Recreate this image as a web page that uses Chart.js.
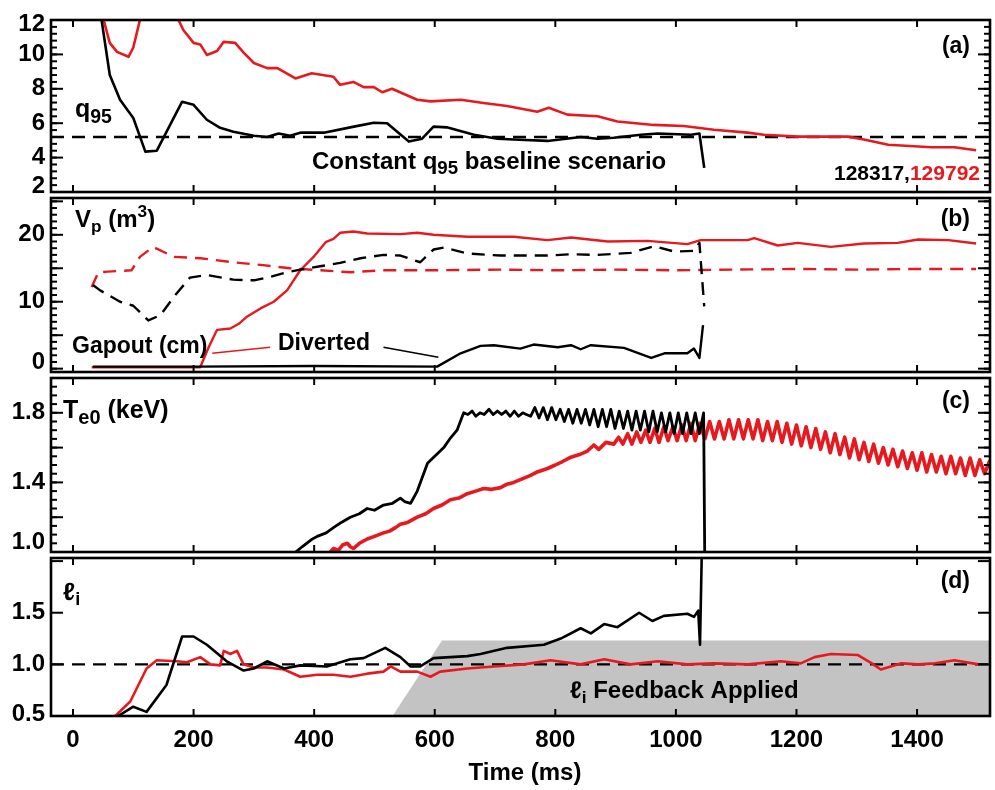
<!DOCTYPE html>
<html>
<head>
<meta charset="utf-8">
<script src="https://cdn.jsdelivr.net/npm/chart.js@4.4.1/dist/chart.umd.min.js"></script>
<style>
  html, body { margin: 0; padding: 0; background: #fff; }
  #wrap { position: relative; width: 995px; height: 790px; }
  #wrap canvas { position: absolute; left: 0; top: 0; }
</style>
</head>
<body>
<div id="wrap">
  <canvas id="panelA" width="995" height="790"></canvas>
  <canvas id="panelB" width="995" height="790"></canvas>
  <canvas id="panelC" width="995" height="790"></canvas>
  <canvas id="panelD" width="995" height="790"></canvas>
</div>
<script>
const RED = "#e6191e";
const FONT = '"Liberation Sans", Arial, Helvetica, sans-serif';

// shared time axis (ms)
const timeRange = [-36.5, 1521];
const xTicks = [0, 200, 400, 600, 800, 1000, 1200, 1400];
const xTickLabels = ["0", "200", "400", "600", "800", "1000", "1200", "1400"];

// (a) q95, shot 128317 (black) and 129792 (red)
const q95TimeBlack = [44, 61, 78, 100, 120, 139, 181, 200, 222, 244, 266, 300, 322, 341, 360, 377, 416, 466, 499, 521, 557, 579, 598, 620, 665, 704, 731, 787, 842, 870, 897, 942, 970, 1025, 1039, 1047];
const q95Black = [12.8, 8.8, 7.36, 6.3, 4.35, 4.4, 7.25, 7.07, 6.2, 5.73, 5.5, 5.27, 5.2, 5.4, 5.27, 5.45, 5.45, 5.8, 6.03, 6.0, 4.93, 5.1, 5.8, 5.76, 5.33, 5.1, 5.05, 4.97, 5.2, 5.1, 5.15, 5.33, 5.4, 5.33, 5.4, 3.4];
const q95TimeRed = [47, 61, 73, 92, 100, 111, 116, 170, 175, 183, 200, 211, 222, 239, 250, 269, 283, 300, 322, 339, 369, 396, 432, 443, 465, 482, 499, 513, 529, 571, 593, 643, 681, 720, 770, 789, 820, 870, 903, 963, 1013, 1063, 1119, 1146, 1202, 1285, 1312, 1352, 1424, 1462, 1498];
const q95Red = [12.5, 10.67, 10.15, 9.86, 10.4, 12.0, 13.0, 13.0, 12.0, 11.42, 10.67, 10.58, 9.97, 10.2, 10.73, 10.67, 10.1, 9.5, 9.2, 9.2, 8.6, 8.9, 8.7, 8.23, 8.4, 8.1, 8.1, 7.8, 8.0, 7.36, 7.27, 7.36, 7.17, 7.0, 6.67, 6.9, 6.5, 6.4, 6.1, 5.9, 5.84, 5.62, 5.45, 5.33, 5.22, 5.22, 5.05, 4.75, 4.6, 4.6, 4.43];
const q95Baseline = [5.2, 5.2];

// (b) Vp (dashed) and Gapout (solid)
const vpTimeBlack = [33, 45, 78, 100, 125, 145, 167, 194, 222, 266, 300, 322, 355, 377, 410, 443, 477, 515, 543, 576, 598, 615, 654, 709, 748, 787, 826, 870, 925, 964, 997, 1030, 1039, 1047];
const vpBlack = [12.5, 11.7, 10.0, 9.4, 7.2, 8.0, 10.7, 13.6, 14.0, 13.3, 13.2, 13.6, 14.4, 14.8, 15.3, 15.8, 16.5, 17.0, 16.9, 15.9, 17.8, 18.1, 17.2, 16.9, 16.9, 16.9, 17.1, 17.0, 17.3, 18.3, 17.5, 17.6, 18.8, 9.3];
const vpTimeRed = [31, 42, 58, 97, 111, 133, 167, 211, 266, 311, 360, 410, 460, 515, 598, 709, 800, 900, 1000, 1100, 1200, 1300, 1400, 1498];
const vpRed = [12.2, 14.4, 14.5, 14.7, 16.7, 18.2, 16.7, 16.5, 15.9, 15.5, 15.0, 14.7, 14.4, 14.7, 14.7, 14.8, 14.7, 14.8, 14.7, 14.8, 14.9, 14.8, 14.9, 14.9];
const gapTimeBlack = [33, 200, 400, 604, 643, 676, 698, 742, 764, 804, 826, 842, 859, 914, 959, 981, 1019, 1030, 1039, 1045];
const gapBlack = [0.3, 0.3, 0.4, 0.3, 2.3, 3.4, 3.5, 3.0, 3.6, 3.2, 3.5, 2.9, 3.5, 3.1, 1.6, 2.3, 2.3, 3.0, 1.6, 6.5];
const gapTimeRed = [31, 100, 211, 225, 239, 261, 275, 289, 311, 333, 355, 377, 399, 419, 432, 443, 465, 488, 543, 571, 598, 654, 709, 731, 787, 826, 887, 953, 1019, 1041, 1119, 1130, 1169, 1202, 1257, 1312, 1368, 1402, 1452, 1498];
const gapRed = [0.2, 0.2, 0.2, 3.2, 5.8, 6.0, 6.7, 7.8, 9.0, 10.0, 11.7, 14.7, 16.7, 18.9, 19.4, 20.3, 20.5, 20.2, 20.1, 20.3, 20.0, 19.7, 19.7, 19.7, 19.2, 19.6, 19.0, 19.1, 18.6, 19.2, 19.2, 19.5, 18.4, 18.8, 18.2, 18.7, 18.8, 19.3, 19.2, 18.7];
// "Diverted" pointers: [time, value] pairs
const divertRed = [[327, 3.2], [231, 2.3]];
const divertBlack = [[515, 3.2], [606, 1.7]];

// (c) Te0 (keV)
const teTimeBlack = [366, 380, 395, 405, 420, 432, 445, 460, 475, 488, 500, 515, 530, 543, 550, 560, 571, 588, 600, 615, 626, 637, 648, 655, 662, 668, 675, 682, 690, 697, 704, 711, 718, 725, 732, 739, 746, 752,
  759, 766, 773, 780, 787, 794, 801, 808, 815, 822, 829, 836, 843, 850, 857, 864, 871, 878, 885, 892, 899, 906, 913, 920, 927, 934, 941, 948, 955, 962, 969, 976, 983, 990, 997, 1004, 1011, 1018, 1025, 1032, 1039, 1046, 1048];
const teBlack = [0.99, 1.03, 1.07, 1.09, 1.11, 1.14, 1.17, 1.2, 1.22, 1.25, 1.24, 1.27, 1.28, 1.31, 1.29, 1.28, 1.35, 1.51, 1.55, 1.60, 1.655, 1.70, 1.80, 1.79, 1.81, 1.78, 1.80, 1.79, 1.82, 1.79, 1.81, 1.79, 1.81, 1.78, 1.81, 1.78, 1.80, 1.79,
  1.78, 1.83, 1.77, 1.83, 1.76, 1.83, 1.76, 1.82, 1.75, 1.82, 1.74, 1.82, 1.74, 1.82, 1.73, 1.82, 1.72, 1.82, 1.72, 1.82, 1.71, 1.81, 1.71, 1.81, 1.70, 1.81, 1.70, 1.81, 1.69, 1.81, 1.69, 1.80, 1.69, 1.80, 1.68, 1.80, 1.68, 1.80, 1.68, 1.80, 1.68, 1.80, 0.9];
const teTimeRed = [424, 432, 440, 447, 455, 460, 465, 475, 488, 500, 515, 525, 535, 543, 555, 571, 585, 598, 612, 626, 640, 654, 668, 681, 695, 709, 720, 731, 745, 759, 770, 787, 800, 812, 826, 840, 853, 864, 872, 884, 897,
  905, 912, 920, 927, 935, 942, 950, 957, 965, 972, 980, 987, 995, 1002, 1010, 1017, 1025, 1032, 1040, 1048, 1056, 1064, 1072, 1080, 1088, 1096, 1104, 1112, 1120, 1128, 1136, 1144, 1152, 1160, 1168, 1176, 1184, 1192, 1200, 1208,
  1216, 1224, 1232, 1240, 1248, 1256, 1264, 1272, 1280, 1288, 1296, 1304, 1312, 1320, 1328, 1336, 1344, 1352, 1360, 1368, 1376, 1384, 1392, 1400, 1408, 1416, 1424, 1432, 1440, 1448, 1456, 1464, 1472, 1480, 1488, 1496, 1504, 1512, 1520, 1527];
const teRed = [0.99, 1.02, 1.01, 1.04, 1.05, 1.03, 1.02, 1.05, 1.075, 1.09, 1.11, 1.12, 1.14, 1.16, 1.17, 1.20, 1.22, 1.25, 1.27, 1.30, 1.31, 1.335, 1.35, 1.365, 1.36, 1.37, 1.39, 1.40, 1.42, 1.44, 1.46, 1.48, 1.50, 1.52, 1.545, 1.56, 1.58, 1.615, 1.59, 1.63, 1.62,
  1.66, 1.62, 1.68, 1.62, 1.69, 1.63, 1.70, 1.63, 1.71, 1.63, 1.72, 1.64, 1.72, 1.64, 1.73, 1.64, 1.74, 1.64, 1.74, 1.65, 1.75, 1.65, 1.75, 1.65, 1.76, 1.65, 1.76, 1.65, 1.76, 1.65, 1.76, 1.64, 1.75, 1.64, 1.75, 1.63, 1.74, 1.62, 1.73, 1.61,
  1.72, 1.60, 1.71, 1.59, 1.69, 1.57, 1.68, 1.56, 1.66, 1.54, 1.65, 1.53, 1.63, 1.52, 1.62, 1.51, 1.60, 1.50, 1.59, 1.49, 1.58, 1.48, 1.57, 1.47, 1.57, 1.46, 1.56, 1.46, 1.55, 1.45, 1.55, 1.45, 1.54, 1.44, 1.54, 1.44, 1.53, 1.45, 1.52, 1.46];

// (d) internal inductance li
const liTimeBlack = [75, 100, 122, 155, 181, 200, 222, 255, 283, 300, 322, 350, 377, 421, 460, 482, 518, 543, 560, 576, 598, 654, 676, 720, 781, 809, 842, 859, 881, 903, 939, 961, 980, 1019, 1030, 1037, 1040, 1043];
const liBlack = [0.5, 0.59, 0.54, 0.8, 1.27, 1.27, 1.19, 1.03, 0.94, 0.96, 1.03, 0.96, 0.99, 0.98, 1.05, 1.06, 1.16, 1.07, 0.98, 0.98, 1.06, 1.08, 1.1, 1.16, 1.19, 1.25, 1.35, 1.30, 1.39, 1.36, 1.5, 1.42, 1.47, 1.49, 1.46, 1.52, 1.19, 2.1];
const liTimeRed = [70, 95, 122, 139, 172, 189, 211, 228, 244, 250, 261, 272, 283, 300, 322, 350, 377, 405, 432, 460, 488, 515, 527, 543, 571, 593, 609, 654, 698, 748, 792, 842, 881, 925, 970, 1019, 1063, 1119, 1174, 1207, 1230, 1257, 1302, 1325, 1340, 1374, 1402, 1430, 1462, 1502];
const liRed = [0.5, 0.64, 0.96, 1.04, 1.03, 1.02, 1.07, 1.0, 0.99, 1.13, 1.1, 1.13, 1.0, 0.97, 0.97, 0.95, 0.88, 0.9, 0.9, 0.88, 0.91, 0.93, 0.98, 0.93, 0.93, 0.88, 0.93, 0.96, 0.98, 1.0, 1.04, 1.0, 1.05, 1.0, 1.03, 1.0, 1.01, 1.0, 1.03, 1.01, 1.07, 1.1, 1.09, 1.01, 0.95, 1.01, 1.0, 1.01, 1.04, 1.0];
const liTarget = [1.0, 1.0];
const feedbackTime = [530, 612, 1521];
const feedbackLevel = [0.5, 1.23, 1.23];

// y axis ticks per panel
const yTicksA = { major: [2, 4, 6, 8, 10, 12], minorStep: 0.4, labels: [2, 4, 6, 8, 10, 12], text: ["2", "4", "6", "8", "10", "12"] };
const yTicksB = { major: [0, 5, 10, 15, 20, 25], minorStep: 1, labels: [0, 10, 20], text: ["0", "10", "20"] };
const yTicksC = { major: [1.0, 1.2, 1.4, 1.6, 1.8, 2.0], minorStep: 0.05, labels: [1.0, 1.4, 1.8], text: ["1.0", "1.4", "1.8"] };
const yTicksD = { major: [0.5, 1.0, 1.5, 2.0], minorStep: 0, labels: [0.5, 1.0, 1.5], text: ["0.5", "1.0", "1.5"] };

function pts(ts, vs) {
  return ts.map((t, i) => ({ x: t, y: vs[i] }));
}

function line(ts, vs, color, width, dash, order) {
  return {
    data: pts(ts, vs),
    borderColor: color,
    borderWidth: width,
    borderDash: dash || [],
    fill: false,
    pointRadius: 0,
    clip: 0,
    order: order
  };
}

// text with sub/superscripts
function drawRich(ctx, t) {
  const size = t.size || 23;
  const small = size * (t.subScale || 0.72);
  let w = 0;
  t.parts.forEach(p => {
    ctx.font = "bold " + (p.sub || p.sup ? small : size) + "px " + FONT;
    w += ctx.measureText(p.t).width;
  });
  let cx = t.align === "right" ? t.x - w : t.align === "center" ? t.x - w / 2 : t.x;
  ctx.textAlign = "left";
  ctx.textBaseline = "middle";
  t.parts.forEach(p => {
    const s = p.sub || p.sup ? small : size;
    ctx.font = "bold " + s + "px " + FONT;
    ctx.fillStyle = p.c || "#000";
    const dy = p.sub ? size * 0.3 : p.sup ? -size * 0.32 : 0;
    ctx.fillText(p.t, cx, t.y + dy);
    cx += ctx.measureText(p.t).width;
  });
}

// frame, inward ticks, labels and notes
const panelFrame = {
  id: "panelFrame",
  afterDraw(chart, args, o) {
    const { ctx, chartArea: a } = chart;
    const xs = chart.scales.x, ys = chart.scales.y;
    ctx.save();
    ctx.strokeStyle = "#000";
    const seg = (x1, y1, x2, y2) => { ctx.beginPath(); ctx.moveTo(x1, y1); ctx.lineTo(x2, y2); ctx.stroke(); };

    // pointer lines
    (o.pointers || []).forEach(pp => {
      ctx.strokeStyle = pp.c;
      ctx.lineWidth = 1.6;
      seg(xs.getPixelForValue(pp.pts[0][0]), ys.getPixelForValue(pp.pts[0][1]),
          xs.getPixelForValue(pp.pts[1][0]), ys.getPixelForValue(pp.pts[1][1]));
    });
    ctx.strokeStyle = "#000";

    ctx.lineWidth = 2;
    const yt = o.yTicks;
    if (yt.minorStep > 0) {
      const n = Math.round((ys.max - ys.min) / yt.minorStep) + 2;
      const start = Math.floor(ys.min / yt.minorStep) * yt.minorStep;
      for (let i = 0; i < n; i++) {
        const p = ys.getPixelForValue(start + i * yt.minorStep);
        if (p < a.top || p > a.bottom) continue;
        seg(a.left, p, a.left + 6, p);
        seg(a.right, p, a.right - 6, p);
      }
    }
    yt.major.forEach(v => {
      const p = ys.getPixelForValue(v);
      if (p < a.top || p > a.bottom) return;
      seg(a.left, p, a.left + 12, p);
      seg(a.right, p, a.right - 12, p);
    });
    xTicks.forEach(v => {
      const p = xs.getPixelForValue(v);
      seg(p, a.top, p, a.top + 7);
      seg(p, a.bottom, p, a.bottom - 7);
    });
    ctx.lineWidth = 2.6;
    ctx.strokeRect(a.left, a.top, a.right - a.left, a.bottom - a.top);

    // y tick labels
    ctx.fillStyle = "#000";
    ctx.font = "bold 24px " + FONT;
    ctx.textAlign = "right";
    ctx.textBaseline = "middle";
    yt.labels.forEach((v, i) => {
      let p = ys.getPixelForValue(v);
      p = Math.min(Math.max(p, o.labelMin), o.labelMax);
      ctx.fillText(yt.text[i], 45, p);
    });

    // x tick labels + title on the bottom panel
    if (o.xAxis) {
      ctx.textAlign = "center";
      xTicks.forEach((v, i) => ctx.fillText(xTickLabels[i], xs.getPixelForValue(v), 740));
      ctx.fillText("Time (ms)", 525, 773);
    }

    (o.texts || []).forEach(t => drawRich(ctx, t));
    ctx.restore();
  }
};

function makePanel(id, top, bottom, yMin, yMax, datasets, frame) {
  return new Chart(document.getElementById(id), {
    type: "line",
    data: { datasets: datasets },
    options: {
      responsive: false,
      animation: false,
      devicePixelRatio: 1,
      layout: { padding: { left: 51, right: 5, top: top, bottom: 790 - bottom } },
      scales: {
        x: { type: "linear", min: timeRange[0], max: timeRange[1], display: false },
        y: { type: "linear", min: yMin, max: yMax, display: false }
      },
      elements: { point: { radius: 0 }, line: { tension: 0, borderJoinStyle: "round" } },
      plugins: { legend: { display: false }, tooltip: { enabled: false }, panelFrame: frame }
    },
    plugins: [panelFrame]
  });
}

// (a)
makePanel("panelA", 20, 192, 2, 12, [
  line(q95TimeBlack, q95Black, "#000", 2.6, null, 1),
  line(q95TimeRed, q95Red, RED, 2.6, null, 2),
  line(timeRange, q95Baseline, "#000", 2.4, [13, 8], 5)
], {
  yTicks: yTicksA, labelMin: 24, labelMax: 186,
  texts: [
    { x: 75, y: 110, size: 25, subScale: 0.78, parts: [{ t: "q" }, { t: "95", sub: true }] },
    { x: 312, y: 162, size: 24, subScale: 0.78, parts: [{ t: "Constant q" }, { t: "95", sub: true }, { t: " baseline scenario" }] },
    { x: 970, y: 47, size: 23, align: "right", parts: [{ t: "(a)" }] },
    { x: 980, y: 174, size: 21, align: "right", parts: [{ t: "128317," }, { t: "129792", c: RED }] }
  ]
});

// (b)
makePanel("panelB", 198, 372, -0.5, 25.5, [
  line(gapTimeBlack, gapBlack, "#000", 2.4, null, 1),
  line(vpTimeBlack, vpBlack, "#000", 2.4, [13, 8], 2),
  line(gapTimeRed, gapRed, RED, 2.4, null, 3),
  line(vpTimeRed, vpRed, RED, 2.4, [13, 8], 4)
], {
  yTicks: yTicksB, labelMin: 202, labelMax: 362,
  pointers: [{ pts: divertRed, c: RED }, { pts: divertBlack, c: "#000" }],
  texts: [
    { x: 75, y: 220, size: 24, parts: [{ t: "V" }, { t: "p", sub: true }, { t: " (m" }, { t: "3", sup: true }, { t: ")" }] },
    { x: 970, y: 220, size: 23, align: "right", parts: [{ t: "(b)" }] },
    { x: 72, y: 347, size: 23, parts: [{ t: "Gapout (cm)" }] },
    { x: 278, y: 344, size: 23, parts: [{ t: "Diverted" }] }
  ]
});

// (c)
makePanel("panelC", 378, 552, 1.0, 2.0, [
  line(teTimeBlack, teBlack, "#000", 2.8, null, 1),
  line(teTimeRed, teRed, RED, 3.6, null, 2)
], {
  yTicks: yTicksC, labelMin: 382, labelMax: 542,
  texts: [
    { x: 63, y: 411, size: 25, subScale: 0.8, parts: [{ t: "T" }, { t: "e0", sub: true }, { t: " (keV)" }] },
    { x: 970, y: 402, size: 23, align: "right", parts: [{ t: "(c)" }] }
  ]
});

// (d)
makePanel("panelD", 558, 716, 0.5, 2.03, [
  line(liTimeBlack, liBlack, "#000", 2.6, null, 1),
  line(liTimeRed, liRed, RED, 2.6, null, 2),
  line(timeRange, liTarget, "#000", 2.4, [13, 8], 5),
  {
    data: pts(feedbackTime, feedbackLevel),
    borderColor: "rgba(0,0,0,0)",
    borderWidth: 0,
    backgroundColor: "#c3c3c3",
    fill: "start",
    pointRadius: 0,
    order: 10
  }
], {
  yTicks: yTicksD, labelMin: 562, labelMax: 714, xAxis: true,
  texts: [
    { x: 63, y: 593, size: 25, parts: [{ t: "\u2113" }, { t: "i", sub: true }] },
    { x: 970, y: 582, size: 23, align: "right", parts: [{ t: "(d)" }] },
    { x: 570, y: 691, size: 24, parts: [{ t: "\u2113" }, { t: "i", sub: true }, { t: " Feedback Applied" }] }
  ]
});
</script>
</body>
</html>
